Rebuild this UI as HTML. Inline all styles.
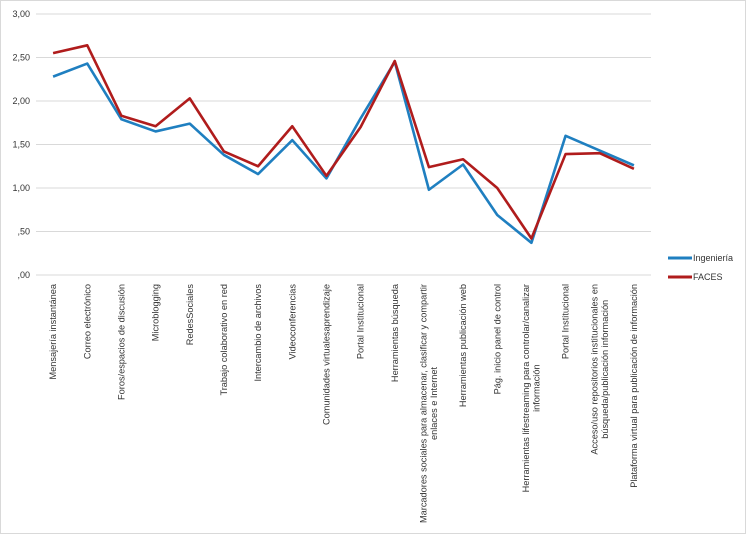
<!DOCTYPE html>
<html><head><meta charset="utf-8"><style>
html,body{margin:0;padding:0;background:#fff}
svg{display:block;font-family:"Liberation Sans",sans-serif}
</style></head><body>
<svg id="chart" width="746" height="534" viewBox="0 0 746 534">
<rect x="0.5" y="0.5" width="745" height="533" fill="#fff" stroke="#d9d9d9"/>
<g id="grid"></g>
<g id="yax"></g>
<g id="xax"></g>
<g id="series"></g>
<g>
<g><line x1="668" y1="258" x2="692" y2="258" stroke="#1f7fc0" stroke-width="3"/><text x="693" y="261" font-size="9" fill="#333">Ingeniería</text></g>
<g><line x1="668" y1="277" x2="692" y2="277" stroke="#b01c1c" stroke-width="3"/><text x="693" y="280" font-size="9" fill="#333">FACES</text></g>
</g>
</svg>
<script>
const categories = [
 ["Mensajería instantánea"],["Correo electrónico"],["Foros/espacios de discusión"],["Microblogging"],["RedesSociales"],
 ["Trabajo colaborativo en red"],["Intercambio de archivos"],["Videoconferencias"],["Comunidades virtualesaprendizaje"],["Portal Institucional"],
 ["Herramientas búsqueda"],["Marcadores sociales para almacenar, clasificar y compartir","enlaces e Internet"],["Herramientas  publicación web"],["Pág. inicio panel de control"],
 ["Herramientas  lifestreaming para controlar/canalizar","información"],["Portal Institucional"],["Acceso/uso repositorios institucionales en","búsqueda/publicación  información"],["Plataforma virtual para publicación  de información"]
];
const ingenieria = [2.28,2.43,1.79,1.65,1.74,1.38,1.16,1.55,1.11,1.80,2.45,0.98,1.27,0.69,0.37,1.60,1.43,1.26];
const faces = [2.55,2.64,1.83,1.71,2.03,1.42,1.25,1.71,1.14,1.70,2.46,1.24,1.33,1.00,0.42,1.39,1.40,1.22];
const yTicks = [0,0.5,1,1.5,2,2.5,3];
const yTickLabels = [",00",",50","1,00","1,50","2,00","2,50","3,00"];

const NS="http://www.w3.org/2000/svg";
const L=36,R=651,T=14,B=275,YMAX=3;
const bw=(R-L)/categories.length;
const xs=i=>L+bw*(i+0.5);
const ys=v=>B-(v/YMAX)*(B-T);
function mk(tag,attrs,parent){const e=document.createElementNS(NS,tag);for(const k in attrs)e.setAttribute(k,attrs[k]);parent.appendChild(e);return e;}
const grid=document.getElementById('grid'),yax=document.getElementById('yax'),xax=document.getElementById('xax'),ser=document.getElementById('series');
yTicks.forEach((t,i)=>{
 const g=mk('line',{x1:L,x2:R,y1:ys(t),y2:ys(t),stroke:'#d9d9d9','stroke-width':1},grid);
 
 
 const tx=mk('text',{x:30,y:ys(t)+3,'font-size':9,'text-anchor':'end',fill:'#333'},yax);
 tx.textContent=yTickLabels[i];
 
 
});
const FS=9.2;
categories.forEach((lines,i)=>{
 const n=lines.length;
 const els=lines.map((s,j)=>{
  const x=xs(i)+(j-(n-1)/2)*10.5+3;
  const tx=mk('text',{x:x,y:284,'font-size':FS,'text-anchor':'end',fill:'#333',transform:`rotate(-90 ${x} 284)`},xax);
  tx.textContent=s;
  
  
  return tx;
 });
 if(n>1){
  let maxLen=0;els.forEach(e=>{maxLen=Math.max(maxLen,e.getComputedTextLength());});
  const cy=284+maxLen/2;
  els.forEach(e=>{const x=e.getAttribute('x');e.setAttribute('y',cy);e.setAttribute('text-anchor','middle');e.setAttribute('transform',`rotate(-90 ${x} ${cy})`);});
 }
});
function line(vals,color,name){
 const p=mk('polyline',{points:vals.map((v,i)=>xs(i)+','+ys(v)).join(' '),fill:'none',stroke:color,'stroke-width':2.6,'stroke-linejoin':'round'},ser);
 
 
}
line(ingenieria,'#1f7fc0','line-ingenieria');
line(faces,'#b01c1c','line-faces');
</script>
</body></html>
